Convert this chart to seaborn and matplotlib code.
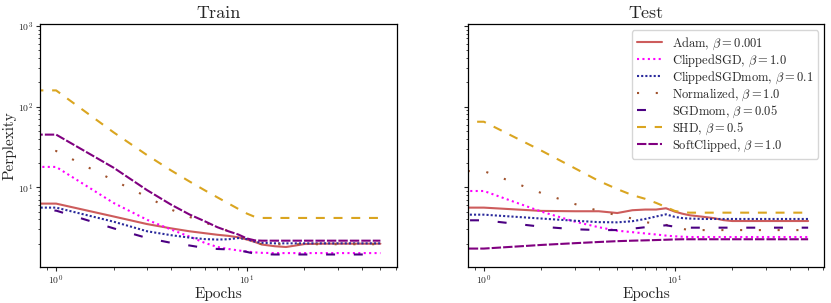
import numpy as np
import pandas as pd
import matplotlib
matplotlib.use('Agg')
import matplotlib.pyplot as plt
import seaborn as sns

# -------------------- Data --------------------
epochs = [0, 1, 2, 3, 4, 5, 6, 7, 8, 9, 10, 11, 12, 14, 16, 18, 20, 25, 30, 40, 50]

methods = [r'Adam, $\beta = 0.001$',
           r'ClippedSGD, $\beta = 1.0$',
           r'ClippedSGDmom, $\beta = 0.1$',
           r'Normalized, $\beta = 1.0$',
           r'SGDmom, $\beta = 0.05$',
           r'SHD, $\beta = 0.5$',
           r'SoftClipped, $\beta = 1.0$']

train_adam = [6.28, 6.28, 4.35, 3.5, 3.1, 2.85, 2.7, 2.58, 2.5, 2.4, 2.25, 2.1, 1.95, 1.86, 1.82, 1.9, 1.98, 2.0, 2.0, 2.0, 2.0]
train_clipped = [17.9, 17.9, 6.4, 3.95, 3.0, 2.45, 2.05, 1.82, 1.72, 1.65, 1.6, 1.56, 1.54, 1.53, 1.53, 1.53, 1.53, 1.53, 1.53, 1.53, 1.53]
train_clippedmom = [5.6, 5.6, 3.75, 2.85, 2.55, 2.38, 2.28, 2.25, 2.27, 2.35, 2.28, 2.12, 2.05, 2.02, 2.02, 2.02, 2.02, 2.02, 2.02, 2.02, 2.02]
train_normalized = [28.2, 28.2, 12.2, 7.6, 5.3, 4.3, 3.65, 3.25, 2.85, 2.55, 2.25, 2.05, 1.97, 1.97, 1.97, 1.97, 1.97, 1.97, 1.97, 1.97, 1.97]
train_sgdmom = [5.14, 5.14, 3.1, 2.35, 2.05, 1.9, 1.77, 1.72, 1.7, 1.66, 1.58, 1.5, 1.48, 1.47, 1.47, 1.47, 1.47, 1.47, 1.47, 1.47, 1.47]
train_shd = [159, 159, 48, 25, 16.2, 11.8, 9.2, 7.5, 6.3, 5.4, 4.72, 4.3, 4.17, 4.17, 4.17, 4.17, 4.17, 4.17, 4.17, 4.17, 4.17]
train_soft = [45, 45, 17.5, 9.2, 6.1, 4.6, 3.8, 3.2, 2.85, 2.6, 2.32, 2.2, 2.18, 2.18, 2.18, 2.18, 2.18, 2.18, 2.18, 2.18, 2.18]

test_adam = [5.6, 5.6, 5.1, 5.05, 5.05, 4.8, 5.2, 5.3, 5.3, 5.5, 5.0, 4.7, 4.5, 4.32, 4.15, 3.92, 3.82, 3.82, 3.82, 3.82, 3.82]
test_clipped = [9.0, 9.0, 5.0, 3.75, 3.2, 2.9, 2.78, 2.68, 2.6, 2.52, 2.47, 2.44, 2.42, 2.42, 2.42, 2.42, 2.42, 2.42, 2.42, 2.42, 2.42]
test_clippedmom = [4.58, 4.58, 4.1, 3.85, 3.7, 3.68, 3.8, 4.05, 4.35, 4.62, 4.3, 4.15, 4.1, 4.05, 4.05, 4.05, 4.05, 4.05, 4.05, 4.05, 4.05]
test_normalized = [15.9, 15.9, 8.5, 6.2, 5.1, 4.5, 4.1, 3.7, 3.55, 3.42, 3.25, 3.05, 2.95, 2.95, 2.95, 2.95, 2.95, 2.95, 2.95, 2.95, 2.95]
test_sgdmom = [3.9, 3.9, 3.25, 3.02, 2.95, 2.95, 3.07, 3.2, 3.3, 3.38, 3.25, 3.18, 3.16, 3.16, 3.16, 3.16, 3.16, 3.16, 3.16, 3.16, 3.16]
test_shd = [65, 65, 28.5, 17.2, 12, 9.5, 8.0, 7.2, 6.4, 5.7, 5.1, 4.9, 4.85, 4.85, 4.85, 4.85, 4.85, 4.85, 4.85, 4.85, 4.85]
test_soft = [1.74, 1.74, 1.93, 2.03, 2.1, 2.15, 2.18, 2.2, 2.22, 2.24, 2.26, 2.27, 2.27, 2.27, 2.27, 2.27, 2.27, 2.27, 2.27, 2.27, 2.27]

train_series = [train_adam, train_clipped, train_clippedmom, train_normalized, train_sgdmom, train_shd, train_soft]
test_series = [test_adam, test_clipped, test_clippedmom, test_normalized, test_sgdmom, test_shd, test_soft]

colors = ['indianred', 'magenta', '#2a2a9c', 'sienna', 'indigo', 'goldenrod', 'purple']
dash_styles = ['', (1, 1.6), (1, 1.0), (1, 8), (4.3, 9), (4.3, 4.2), (4.5, 1.0)]


def to_long(series):
    frames = []
    for name, vals in zip(methods, series):
        frames.append(pd.DataFrame({'Epochs': epochs, 'Perplexity': vals, 'method': name}))
    return pd.concat(frames, ignore_index=True)


# -------------------- Style --------------------
sns.set_style('ticks')
plt.rcParams.update({
    'font.family': 'serif',
    'font.serif': ['cmr10', 'DejaVu Serif'],
    'mathtext.fontset': 'cm',
    'axes.formatter.use_mathtext': True,
    'axes.edgecolor': 'black',
    'axes.linewidth': 0.9,
    'xtick.labelsize': 7,
    'ytick.labelsize': 7,
    'xtick.major.size': 3, 'ytick.major.size': 3,
    'xtick.minor.size': 1.8, 'ytick.minor.size': 1.8,
    'xtick.major.pad': 2, 'ytick.major.pad': 2,
    'xtick.minor.pad': 2, 'ytick.minor.pad': 2,
})

fig, axes = plt.subplots(1, 2, figsize=(8.31, 3.03), dpi=100, sharey=True)
fig.subplots_adjust(left=0.048, right=0.992, top=0.921, bottom=0.119, wspace=0.199)

palette = dict(zip(methods, colors))
dashes = dict(zip(methods, dash_styles))

for ax, series, title in [(axes[0], train_series, 'Train'), (axes[1], test_series, 'Test')]:
    sns.lineplot(data=to_long(series), x='Epochs', y='Perplexity', hue='method', style='method',
                 palette=palette, dashes=dashes, estimator=None, sort=False,
                 linewidth=1.5, legend=False, ax=ax)
    ax.set_xscale('log')
    ax.set_yscale('log')
    ax.set_xlim(0.822, 60.8)
    ax.set_title(title, fontsize=13, pad=4)
    ax.set_xlabel('Epochs', fontsize=11, labelpad=0)

axes[0].set_ylim(1.03, 1060)
axes[0].set_ylabel('Perplexity', fontsize=11, labelpad=1)
axes[1].set_ylabel('')

axes[1].legend(handles=axes[1].get_lines()[:len(methods)], labels=methods,
               loc='upper right', fontsize=9, labelspacing=0.05, handlelength=2.0,
               handletextpad=0.8, borderpad=0.4, frameon=True)

plt.savefig('out.png', dpi=100)
plt.close()
